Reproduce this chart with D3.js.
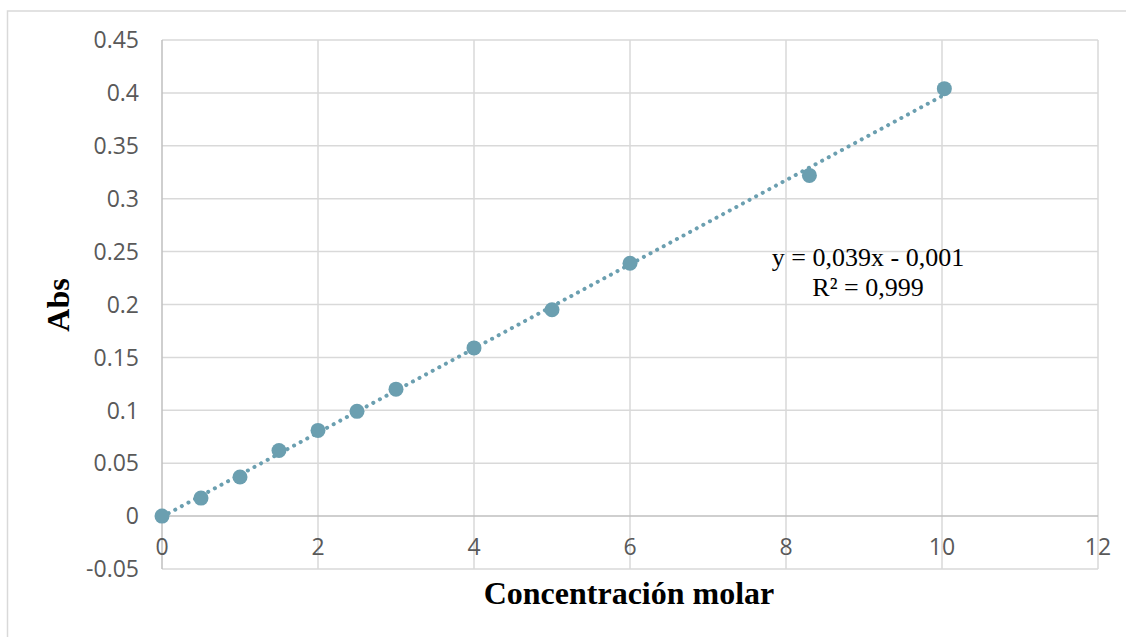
<!DOCTYPE html>
<html>
<head>
<meta charset="utf-8">
<script src="https://cdn.jsdelivr.net/npm/d3@7/dist/d3.min.js"></script>
<style>
  html, body { margin: 0; padding: 0; background: #fff; }
  svg { display: block; }
</style>
</head>
<body>
<svg id="chart" width="1126" height="637"></svg>
<script>
// Calibration data: molar concentration vs. absorbance
const concentrations = [0, 0.5, 1, 1.5, 2, 2.5, 3, 4, 5, 6, 8.3, 10.03];
const absorbances    = [0, 0.017, 0.037, 0.062, 0.081, 0.099, 0.12, 0.159, 0.195, 0.239, 0.322, 0.404];
const xTicks = [0, 2, 4, 6, 8, 10, 12];
const yTicks = [-0.05, 0, 0.05, 0.1, 0.15, 0.2, 0.25, 0.3, 0.35, 0.4, 0.45];
const yTickLabels = ["-0.05", "0", "0.05", "0.1", "0.15", "0.2", "0.25", "0.3", "0.35", "0.4", "0.45"];
const equationLines = ["y = 0,039x - 0,001", "R\u00b2 = 0,999"];
const xTitle = "Concentración molar";
const yTitle = "Abs";

const svg = d3.select("#chart");
const W = 1126, H = 637;
const plot = { left: 162, right: 1098, top: 40, bottom: 569 };

const x = d3.scaleLinear().domain([0, 12]).range([plot.left, plot.right]);
const y = d3.scaleLinear().domain([-0.05, 0.45]).range([plot.bottom, plot.top]);

const markColor = "#6b9fb0";
const gridColor = "#d9d9d9";
const axisColor = "#bfbfbf";
const tickFont = "'Open Sans', 'Noto Sans', sans-serif";
const serif = "'Liberation Serif', 'Times New Roman', serif";

// Chart frame
svg.append("rect")
  .attr("x", 7.5).attr("y", 11)
  .attr("width", W + 10).attr("height", H + 10)
  .attr("fill", "#fff")
  .attr("stroke", "#d9d9d9").attr("stroke-width", 1.5);

// Gridlines
const grid = svg.append("g");
grid.selectAll("line.h").data(yTicks.filter(v => Math.abs(v) > 1e-9)).join("line")
  .attr("class", "h")
  .attr("x1", plot.left).attr("x2", plot.right)
  .attr("y1", d => y(d)).attr("y2", d => y(d))
  .attr("stroke", gridColor).attr("stroke-width", 1.5);
grid.selectAll("line.v").data(xTicks.filter(v => v !== 0)).join("line")
  .attr("class", "v")
  .attr("y1", plot.top).attr("y2", plot.bottom)
  .attr("x1", d => x(d)).attr("x2", d => x(d))
  .attr("stroke", gridColor).attr("stroke-width", 1.5);

// Axis lines through zero
svg.append("line")
  .attr("x1", x(0)).attr("x2", x(0))
  .attr("y1", plot.top).attr("y2", plot.bottom)
  .attr("stroke", axisColor).attr("stroke-width", 1.5);
svg.append("line")
  .attr("x1", plot.left).attr("x2", plot.right)
  .attr("y1", y(0)).attr("y2", y(0))
  .attr("stroke", axisColor).attr("stroke-width", 1.5);

// Y tick labels
svg.append("g").selectAll("text").data(yTicks).join("text")
  .attr("x", 139)
  .attr("y", d => y(d))
  .attr("dy", "0.36em")
  .attr("text-anchor", "end")
  .attr("font-family", tickFont)
  .attr("font-size", 23)
  .attr("fill", "#595959")
  .text((d, i) => yTickLabels[i]);

// X tick labels (sit just below the zero line)
svg.append("g").selectAll("text").data(xTicks).join("text")
  .attr("x", d => x(d))
  .attr("y", y(0) + 39)
  .attr("text-anchor", "middle")
  .attr("font-family", tickFont)
  .attr("font-size", 23)
  .attr("fill", "#595959")
  .text(d => d);

// Linear least-squares trendline
const n = concentrations.length;
const mx = d3.mean(concentrations), my = d3.mean(absorbances);
let sxy = 0, sxx = 0;
for (let i = 0; i < n; i++) {
  sxy += (concentrations[i] - mx) * (absorbances[i] - my);
  sxx += (concentrations[i] - mx) ** 2;
}
const slope = sxy / sxx, intercept = my - slope * mx;
const xs = d3.extent(concentrations);
svg.append("line")
  .attr("x1", x(xs[0])).attr("y1", y(slope * xs[0] + intercept))
  .attr("x2", x(xs[1])).attr("y2", y(slope * xs[1] + intercept))
  .attr("stroke", markColor).attr("stroke-width", 4)
  .attr("stroke-linecap", "round")
  .attr("stroke-dasharray", "0.1,7.4");

// Data points
svg.append("g").selectAll("circle").data(concentrations).join("circle")
  .attr("cx", d => x(d))
  .attr("cy", (d, i) => y(absorbances[i]))
  .attr("r", 7.5)
  .attr("fill", markColor);

// Regression equation
svg.append("g").selectAll("text").data(equationLines).join("text")
  .attr("x", 868)
  .attr("y", (d, i) => 266 + i * 30)
  .attr("text-anchor", "middle")
  .attr("font-family", serif)
  .attr("font-size", 26)
  .attr("fill", "#000")
  .text(d => d);

// Axis titles
svg.append("text")
  .attr("x", (plot.left + plot.right) / 2 - 1)
  .attr("y", 604)
  .attr("text-anchor", "middle")
  .attr("font-family", serif)
  .attr("font-weight", "bold")
  .attr("font-size", 32)
  .attr("fill", "#000")
  .text(xTitle);

svg.append("text")
  .attr("transform", "translate(69,305) rotate(-90)")
  .attr("text-anchor", "middle")
  .attr("font-family", serif)
  .attr("font-weight", "bold")
  .attr("font-size", 32)
  .attr("fill", "#000")
  .text(yTitle);
</script>
</body>
</html>
